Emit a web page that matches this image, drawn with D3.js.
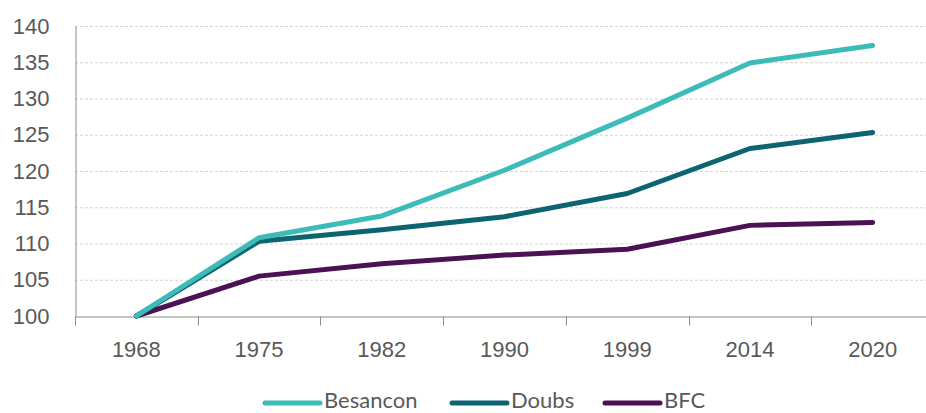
<!DOCTYPE html>
<html>
<head>
<meta charset="utf-8">
<script src="https://cdn.jsdelivr.net/npm/d3@7"></script>
<style>
  body { margin: 0; background: #fff; }
  svg { display: block; font-family: Lato, "Open Sans", sans-serif; }
</style>
</head>
<body>
<svg width="926" height="413"></svg>
<script>
var years = ['1968', '1975', '1982', '1990', '1999', '2014', '2020'];
var besancon = [100, 110.8, 113.8, 120.1, 127.3, 134.9, 137.3];
var doubs = [100, 110.3, 111.9, 113.7, 116.9, 123.1, 125.3];
var bfc = [100, 105.5, 107.2, 108.4, 109.2, 112.5, 112.9];
var yTicks = [100, 105, 110, 115, 120, 125, 130, 135, 140];

var series = [
  {name: 'Besancon', values: besancon, color: '#3cbbb8'},
  {name: 'Doubs', values: doubs, color: '#0b6470'},
  {name: 'BFC', values: bfc, color: '#4a1252'}
];

var svg = d3.select('svg');
var plotLeft = 75, plotRight = 934, plotTop = 26, plotBottom = 316;

var x = d3.scaleBand().domain(years).range([plotLeft, plotRight]);
var y = d3.scaleLinear().domain([100, 140]).range([plotBottom, plotTop]);

// gridlines
svg.append('g')
  .selectAll('line')
  .data(yTicks.slice(1))
  .join('line')
  .attr('x1', plotLeft)
  .attr('x2', plotRight)
  .attr('y1', d => y(d) + 0.5)
  .attr('y2', d => y(d) + 0.5)
  .attr('stroke', '#d4d4d4')
  .attr('stroke-width', 1)
  .attr('stroke-dasharray', '3,2');

// y axis
var yAxis = svg.append('g')
  .attr('transform', 'translate(' + (plotLeft + 0.5) + ',0)')
  .call(d3.axisLeft(y).tickValues(yTicks).tickSize(0).tickPadding(26));
yAxis.select('.domain').attr('stroke', '#8c8c8c');
yAxis.selectAll('text')
  .attr('fill', '#595959')
  .style('font-size', '22px');

// x axis
var xAxis = svg.append('g')
  .attr('transform', 'translate(0,' + (plotBottom + 0.5) + ')')
  .call(d3.axisBottom(x).tickSize(0).tickPadding(25));
xAxis.select('.domain').attr('stroke', '#8c8c8c');
xAxis.selectAll('text')
  .attr('fill', '#595959')
  .style('font-size', '22px');
// category separators
xAxis.selectAll('.sep')
  .data(years)
  .join('line')
  .attr('class', 'sep')
  .attr('x1', d => Math.round(x(d)) + 0.5)
  .attr('x2', d => Math.round(x(d)) + 0.5)
  .attr('y1', 0)
  .attr('y2', 9)
  .attr('stroke', '#8c8c8c');

// lines
var line = d3.line()
  .x((d, i) => x(years[i]) + x.bandwidth() / 2)
  .y(d => y(d));

svg.append('g')
  .selectAll('path')
  .data(series.slice().reverse())
  .join('path')
  .attr('d', d => line(d.values))
  .attr('fill', 'none')
  .attr('stroke', d => d.color)
  .attr('stroke-width', 5)
  .attr('stroke-linejoin', 'round')
  .attr('stroke-linecap', 'round');

// legend
var legendX = [265, 452, 605];
var legend = svg.append('g')
  .selectAll('g')
  .data(series)
  .join('g')
  .attr('transform', (d, i) => 'translate(' + legendX[i] + ',403)');
legend.append('line')
  .attr('x1', 0)
  .attr('x2', 55)
  .attr('stroke', d => d.color)
  .attr('stroke-width', 5)
  .attr('stroke-linecap', 'round');
legend.append('text')
  .attr('x', 59)
  .attr('y', 5)
  .attr('fill', '#595959')
  .style('font-size', '22px')
  .text(d => d.name);
</script>
</body>
</html>
